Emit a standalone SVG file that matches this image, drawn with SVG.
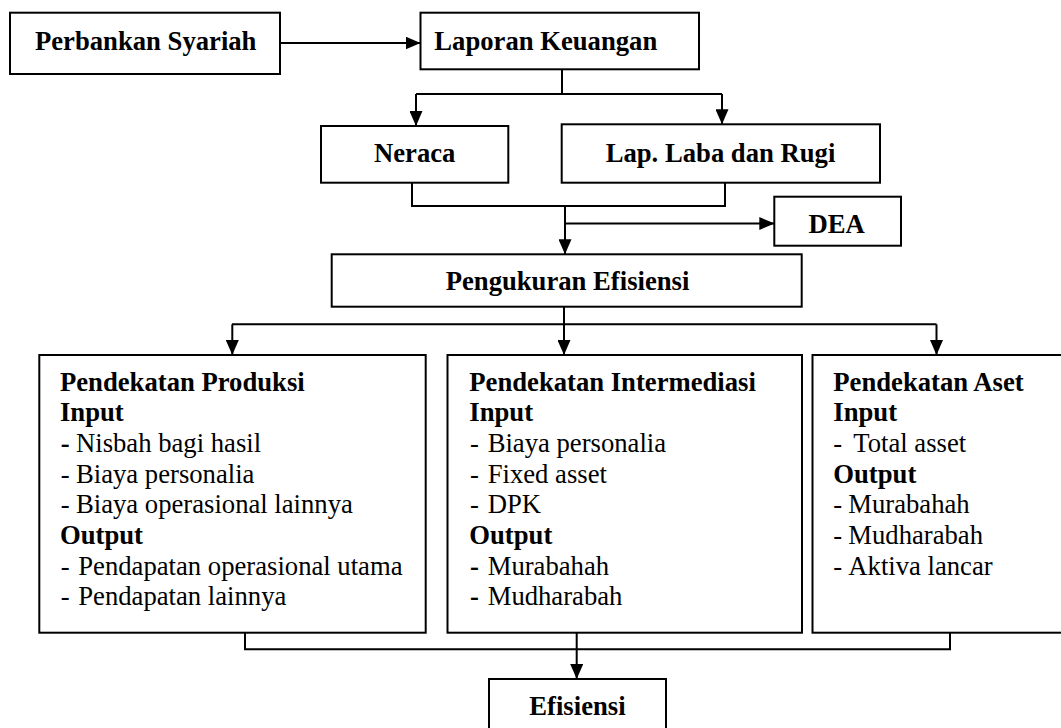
<svg xmlns="http://www.w3.org/2000/svg" width="1061" height="728" viewBox="0 0 1061 728">
<style>
.box{fill:#fff;stroke:#000;stroke-width:2}
.ln{fill:none;stroke:#000;stroke-width:2}
.t{font-family:"Liberation Serif","Times New Roman",serif;font-size:26.67px;fill:#000}
.b{font-weight:bold}
</style>
<defs>
<marker id="ah" viewBox="0 0 15 13" refX="15" refY="6.5" markerWidth="15" markerHeight="13" markerUnits="userSpaceOnUse" orient="auto">
<path d="M0,0 L15,6.5 L0,13 Z" fill="#000"/>
</marker>
</defs>
<rect width="1061" height="728" fill="#fff"/>
<g id="connectors">
<line class="ln" x1="280" y1="43" x2="420.5" y2="43" marker-end="url(#ah)"/>
<line class="ln" x1="562" y1="69.3" x2="562" y2="94"/>
<line class="ln" x1="416" y1="94" x2="722" y2="94"/>
<line class="ln" x1="416" y1="94" x2="416" y2="126" marker-end="url(#ah)"/>
<line class="ln" x1="722" y1="94" x2="722" y2="124.3" marker-end="url(#ah)"/>
<polyline class="ln" points="412,182.7 412,206 725,206 725,182.7"/>
<line class="ln" x1="565" y1="206" x2="565" y2="254.3" marker-end="url(#ah)"/>
<line class="ln" x1="565" y1="223.5" x2="774.3" y2="223.5" marker-end="url(#ah)"/>
<line class="ln" x1="564" y1="306.7" x2="564" y2="324.3"/>
<line class="ln" x1="232" y1="324.3" x2="936.5" y2="324.3"/>
<line class="ln" x1="232.3" y1="324.3" x2="232.3" y2="355" marker-end="url(#ah)"/>
<line class="ln" x1="564" y1="324.3" x2="564" y2="355" marker-end="url(#ah)"/>
<line class="ln" x1="936.5" y1="324.3" x2="936.5" y2="355" marker-end="url(#ah)"/>
<polyline class="ln" points="245,632.7 245,649.3 950,649.3 950,632.7"/>
<line class="ln" x1="576.7" y1="632.7" x2="576.7" y2="679" marker-end="url(#ah)"/>
</g>
<g id="perbankan">
<rect class="box" x="10" y="12.7" width="270" height="61.3"/>
<text class="t b" x="35" y="50">Perbankan Syariah</text>
</g>
<g id="laporan">
<rect class="box" x="420.5" y="12.7" width="278.5" height="56.6"/>
<text class="t b" x="434.3" y="50">Laporan Keuangan</text>
</g>
<g id="neraca">
<rect class="box" x="321" y="126" width="187.3" height="56.7"/>
<text class="t b" x="374" y="162.3">Neraca</text>
</g>
<g id="labarugi">
<rect class="box" x="561.7" y="124.3" width="318.3" height="58.4"/>
<text class="t b" x="605.7" y="162.3">Lap. Laba dan Rugi</text>
</g>
<g id="dea">
<rect class="box" x="774.3" y="196.7" width="126.7" height="49"/>
<text class="t b" x="808.5" y="233.3">DEA</text>
</g>
<g id="pengukuran">
<rect class="box" x="331.7" y="254.3" width="470" height="52.4"/>
<text class="t b" x="445.7" y="290">Pengukuran Efisiensi</text>
</g>
<g id="produksi">
<rect class="box" x="39.3" y="355" width="386.4" height="277.7"/>
<text class="t b" x="60" y="390.7">Pendekatan Produksi</text>
<text class="t b" x="60" y="421.3">Input</text>
<text class="t" y="452"><tspan class="b" x="60.7">-</tspan><tspan x="76">Nisbah bagi hasil</tspan></text>
<text class="t" y="482.7"><tspan x="60.7">-</tspan><tspan x="76">Biaya personalia</tspan></text>
<text class="t" y="513.3"><tspan x="60.7">-</tspan><tspan x="76">Biaya operasional lainnya</tspan></text>
<text class="t b" x="60" y="544">Output</text>
<text class="t" y="574.7"><tspan x="60.7">-</tspan><tspan x="78.3">Pendapatan operasional utama</tspan></text>
<text class="t" y="605.3"><tspan x="60.7">-</tspan><tspan x="78.3">Pendapatan lainnya</tspan></text>
</g>
<g id="intermediasi">
<rect class="box" x="447.5" y="355" width="354.5" height="277.7"/>
<text class="t b" x="469.3" y="390.7">Pendekatan Intermediasi</text>
<text class="t b" x="469.3" y="421.3">Input</text>
<text class="t" y="452"><tspan x="470">-</tspan><tspan x="487.7">Biaya personalia</tspan></text>
<text class="t" y="482.7"><tspan x="470">-</tspan><tspan x="487.7">Fixed asset</tspan></text>
<text class="t" y="513.3"><tspan x="470">-</tspan><tspan x="487.7">DPK</tspan></text>
<text class="t b" x="469.3" y="544">Output</text>
<text class="t" y="574.7"><tspan class="b" x="470">-</tspan><tspan x="487.7">Murabahah</tspan></text>
<text class="t" y="605.3"><tspan class="b" x="470">-</tspan><tspan x="487.7">Mudharabah</tspan></text>
</g>
<g id="aset">
<rect class="box" x="812.5" y="355" width="260" height="277.7"/>
<text class="t b" x="833.3" y="390.7">Pendekatan Aset</text>
<text class="t b" x="833.3" y="421.3">Input</text>
<text class="t" y="452"><tspan x="833.3">-</tspan><tspan x="853.3">Total asset</tspan></text>
<text class="t b" x="833.3" y="482.7">Output</text>
<text class="t" y="513.3"><tspan x="833.3">-</tspan><tspan x="848.3">Murabahah</tspan></text>
<text class="t" y="544"><tspan x="833.3">-</tspan><tspan x="848.3">Mudharabah</tspan></text>
<text class="t" y="574.7"><tspan x="833.3">-</tspan><tspan x="848.3">Aktiva lancar</tspan></text>
</g>
<g id="efisiensi">
<rect class="box" x="489" y="679" width="177" height="60"/>
<text class="t b" x="529.3" y="715">Efisiensi</text>
</g>
</svg>
